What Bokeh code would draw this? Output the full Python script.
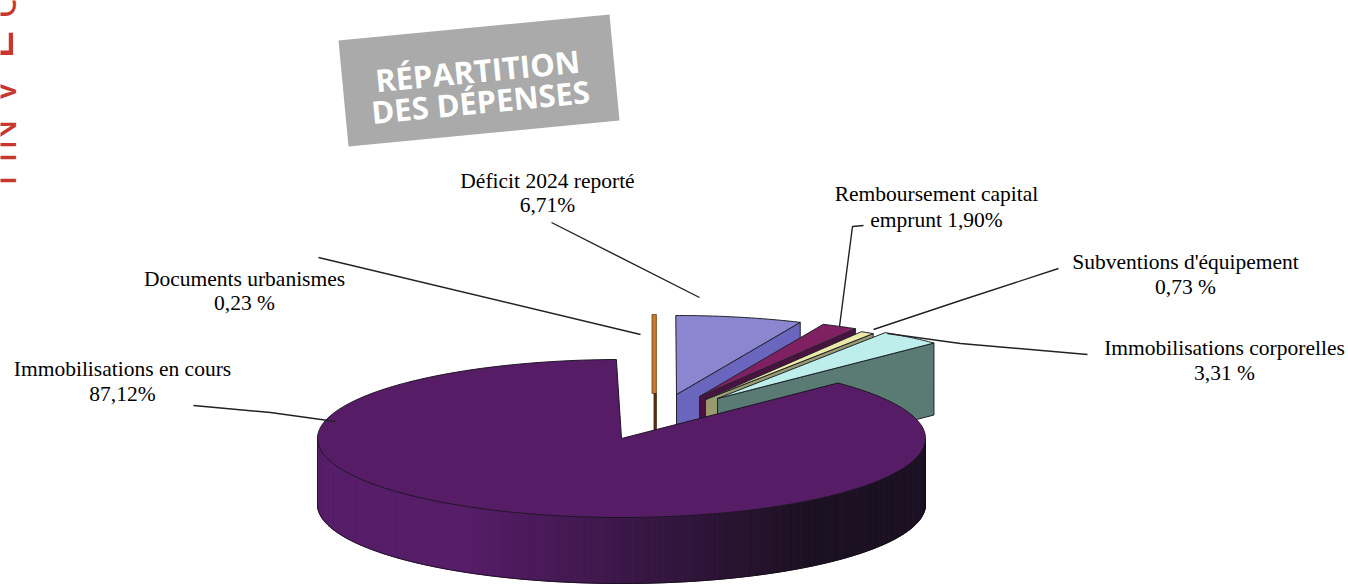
import numpy as np
from bokeh.plotting import figure
from bokeh.models import Range1d
from bokeh.core.properties import value
from bokeh.embed import file_html
from bokeh.resources import INLINE

# ---- data ----
slice_names = ["Immobilisations corporelles", "Subventions d'équipement", "Remboursement capital emprunt",
               "Déficit 2024 reporté", "Documents urbanismes", "Immobilisations en cours"]
slice_values = [3.31, 0.73, 1.90, 6.71, 0.23, 87.12]
top_colors = ["#bdeeec", "#ece8a8", "#7f2062", "#8c85d0", "#c97a2b", "#561d66"]
side_colors = ["#5a7b74", "#9a9a70", "#4a1240", "#6a66bd", "#5a3310", "#561d66"]

label_first = ["Immobilisations en cours", "Documents urbanismes", "Déficit 2024 reporté",
               "Remboursement capital", "Subventions d'équipement", "Immobilisations corporelles"]
label_second = ["87,12%", "0,23 %", "6,71%", "emprunt 1,90%", "0,73 %", "3,31 %"]
title_lines = ["RÉPARTITION", "DES DÉPENSES"]
side_letters = ["I", "I", "N", "V", "U"]
side_letter_l = ["L"]

# ---- layout (page pixels) ----
W, H = 1348, 585
RX, RY = 304, 79
MAIN_C = (621, 438)
MAIN_DEPTH = 66
EXPLODED_DEPTH = 72
START_DEG = 44.6
centers = [(717, 398), (705, 399), (699, 396), (676, 394), (652, 393), MAIN_C]

p = figure(width=W, height=H, x_range=Range1d(0, W), y_range=Range1d(H, 0),
           output_backend="svg", toolbar_location=None, min_border=0,
           outline_line_color=None, margin=(0, 0, 0, 0))
p.axis.visible = False
p.grid.visible = False
p.background_fill_color = "white"


def arc(c, a0, a1, n=None, dy=0):
    n = n or max(4, int(abs(a1 - a0) * 1.5))
    t = np.radians(np.linspace(a0, a1, n))
    return c[0] + RX * np.cos(t), c[1] - RY * np.sin(t) + dy


# angle spans from the shares, anticlockwise from START_DEG
edges = START_DEG + np.concatenate([[0], np.cumsum(slice_values)]) * 3.6

# the very thin slice reads as a vertical stripe whose width follows its share
c = centers[4]
stripe_w = RX * np.radians(edges[5] - edges[4])
sx0, sx1 = c[0] - 0.5, c[0] - 0.5 + stripe_w
p.patch([sx0, sx1, sx1, sx0], [c[1] - RY, c[1] - RY, c[1], c[1]],
        fill_color=top_colors[4], line_color="#6a4218", line_width=0.8)
p.patch([sx0 + 2, sx1, sx1, sx0 + 2], [c[1], c[1], c[1] + EXPLODED_DEPTH, c[1] + EXPLODED_DEPTH],
        fill_color=side_colors[4], line_color="#3a200a", line_width=0.8)

# exploded slices, back to front
for i in [3, 2, 1, 0]:
    c = centers[i]
    a0, a1 = edges[i], edges[i + 1]
    ax, ay = arc(c, a0, a1)
    # cut face on the low-angle side, seen from the front
    fx = [c[0], ax[0], ax[0], c[0]]
    fy = [c[1], ay[0], ay[0] + EXPLODED_DEPTH, c[1] + EXPLODED_DEPTH]
    p.patch(fx, fy, fill_color=side_colors[i], line_color="#20242c", line_width=1)
    p.patch([c[0], *ax], [c[1], *ay], fill_color=top_colors[i], line_color="#20242c", line_width=1)

# main slice: shaded rim drawn in strips, then the top face
a0, a1 = edges[5], edges[6]
rim = np.linspace(180, 360, 181)
rx_all, ry_all = arc(MAIN_C, 180, 360, n=181)


def rim_colour(x):
    light, dark = np.array([0x56, 0x1d, 0x68]), np.array([0x1c, 0x11, 0x22])
    f = np.clip((x - 470) / (810 - 470), 0, 1)
    return "#%02x%02x%02x" % tuple(int(v) for v in light + (dark - light) * f)


xs, ys, cols = [], [], []
for k in range(len(rim) - 1):
    x0, x1 = rx_all[k], rx_all[k + 1]
    y0, y1 = ry_all[k], ry_all[k + 1]
    xs.append([x0, x1, x1, x0])
    ys.append([y0, y1, y1 + MAIN_DEPTH, y0 + MAIN_DEPTH])
    cols.append(rim_colour((x0 + x1) / 2))
p.patches(xs, ys, fill_color=cols, line_color=cols, line_width=1)
bx, by = arc(MAIN_C, 180, 360, n=181, dy=MAIN_DEPTH)
p.line(bx, by, line_color="#140c18", line_width=0.8)
p.line([MAIN_C[0] - RX] * 2, [MAIN_C[1], MAIN_C[1] + MAIN_DEPTH], line_color="#2a1033", line_width=0.8)
p.line([MAIN_C[0] + RX] * 2, [MAIN_C[1], MAIN_C[1] + MAIN_DEPTH], line_color="#140c18", line_width=0.8)

ax, ay = arc(MAIN_C, a0, a1, n=400)
p.patch([MAIN_C[0], *ax], [MAIN_C[1], *ay], fill_color=top_colors[5], line_color="#1e1424", line_width=1)

# leader lines
leaders_x = [[193, 270, 335], [318, 640], [551, 699], [863, 852, 839], [1058, 960, 873], [1087, 960, 887]]
leaders_y = [[405, 412, 421], [257, 334], [222, 297], [225, 226, 326], [268, 300, 329], [354, 343, 333]]
p.multi_line(leaders_x, leaders_y, line_color="#222222", line_width=1.4)

# slice labels
lab_x = [122, 244, 547, 936, 1185, 1224]
lab_y1 = [368, 278, 180, 193, 261, 347]
lab_y2 = [393, 302, 204, 219, 286, 372]
for lines, ys_ in ((label_first, lab_y1), (label_second, lab_y2)):
    p.text(lab_x, ys_, text=lines, text_font=value("Liberation Serif"), text_font_size="21.5px",
           text_color="#000000", text_align="center", text_baseline="middle")

# grey title plate
p.patch([338, 609, 619, 348], [40, 14, 120, 146], fill_color="#a9aaa9", line_color=None)
tilt = np.radians(5.5)
p.text([477, 480], [70, 101], text=title_lines, text_font=value("Open Sans"), text_font_size="31px",
       text_font_style="bold", text_color="white", text_align="center", text_baseline="middle", angle=tilt)

# red vertical word, cut by the page edge
p.text([-1, -1, -1, -1, -1], [180, 157, 134, 91, 4], text=side_letters, text_font=value("Open Sans"),
       text_font_size="42px", text_color="#c8372d", text_align="center", text_baseline="alphabetic",
       angle=np.pi / 2)
p.text([-10], [60], text=side_letter_l, text_font=value("Open Sans"), text_font_size="56px",
       text_color="#c8372d", text_align="left", text_baseline="alphabetic", angle=np.pi / 2)

open("out.html", "w").write(file_html(p, INLINE))
